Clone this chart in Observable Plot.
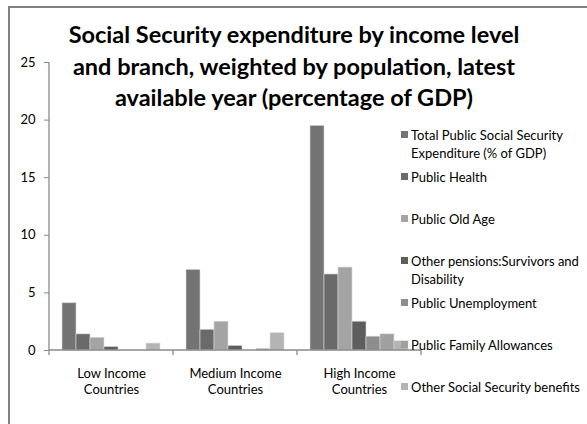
<!DOCTYPE html>
<html>
<head>
<meta charset="utf-8">
<script src="https://cdn.jsdelivr.net/npm/d3@7"></script>
<script src="https://cdn.jsdelivr.net/npm/@observablehq/plot@0.6"></script>
<style>
  html, body { margin: 0; padding: 0; background: #fff; }
  #wrap { position: relative; width: 587px; height: 424px; overflow: hidden; font-family: Lato, "Open Sans", sans-serif; background: #fff; }
  #chart { position: absolute; left: 0; top: 0; z-index: 1; }
  #title { position: absolute; left: 0; width: 588px; top: 19px; text-align: center; font-weight: bold; font-size: 23.5px; line-height: 31.5px; color: #000; z-index: 2; }
  #legend { position: absolute; left: 401px; top: 126px; width: 186px; font-size: 13px; color: #000; z-index: 3; }
  .item { height: 42px; position: relative; }
  .sw { position: absolute; left: 0; top: 5px; width: 7px; height: 7px; }
  .lab { position: absolute; left: 10px; top: 0; width: 176px; line-height: 18px; }
</style>
</head>
<body>
<div id="wrap">
  <div id="chart"></div>
  <div id="title">Social Security expenditure by income level<br>and branch, weighted by population, latest<br>available year (percentage of GDP)</div>
  <div id="legend"></div>
</div>
<script>
const categories = ["Low Income Countries", "Medium Income Countries", "High Income Countries"];
const series = [
  "Total Public Social Security Expenditure (% of GDP)",
  "Public Health",
  "Public Old Age",
  "Other pensions:Survivors and Disability",
  "Public Unemployment",
  "Public Family Allowances",
  "Other Social Security benefits"
];
const lowValues = [4.1, 1.4, 1.1, 0.3, 0, 0, 0.6];
const mediumValues = [7.0, 1.8, 2.5, 0.4, 0, 0.15, 1.5];
const highValues = [19.5, 6.6, 7.2, 2.5, 1.2, 1.4, 0.8];
const yTicks = [0, 5, 10, 15, 20, 25];
const colors = ["#737373", "#6a6a6a", "#a4a4a4", "#5e5e5e", "#8d8d8d", "#a0a0a0", "#b4b4b4"];

const valuesByCategory = [lowValues, mediumValues, highValues];
const data = [];
categories.forEach((c, i) => series.forEach((s, j) => data.push({cat: c, series: s, value: valuesByCategory[i][j]})));

const plot = Plot.plot({
  width: 587,
  height: 424,
  marginLeft: 49,
  marginRight: 166,
  marginTop: 62,
  marginBottom: 74,
  style: {fontFamily: "Lato, 'Open Sans', sans-serif", fontSize: "13px", color: "#000", background: "transparent", overflow: "visible"},
  fx: {domain: categories, padding: 0, label: null, axis: null},
  x: {domain: series, paddingInner: 0, paddingOuter: 0.8, axis: null},
  y: {domain: [0, 25], label: null},
  color: {domain: series, range: colors},
  marks: [
    Plot.barY(data, {fx: "cat", x: "series", y: "value", fill: "series", stroke: "#d9d9d9", strokeWidth: 0.6}),
    Plot.axisY({ticks: yTicks, tickSize: 5, tickPadding: 9, stroke: "#8a8a8a", fill: "#000", label: null}),
    Plot.axisFx({anchor: "bottom", tickSize: 0, tickPadding: 15, label: null, fill: "#000", lineHeight: 1.3,
      tickFormat: d => d.replace(" Countries", "\nCountries")})
  ]
});
document.getElementById("chart").appendChild(plot);

// axis lines and category boundary ticks from the plot's own scales
const fx = plot.scale("fx"), y = plot.scale("y");
const svg = d3.select(plot);
const y0 = y.apply(0), yTop = y.apply(25);
const left = fx.apply(categories[0]);
const bw = fx.bandwidth;
const right = fx.apply(categories[categories.length - 1]) + bw;
const g = svg.append("g").attr("stroke", "#8a8a8a").attr("stroke-width", 1.3);
g.append("line").attr("x1", left).attr("x2", left).attr("y1", yTop).attr("y2", y0);
g.append("line").attr("x1", left).attr("x2", right).attr("y1", y0).attr("y2", y0);
const bounds = categories.map(c => fx.apply(c)).concat([right]);
bounds.forEach(b => g.append("line").attr("x1", b).attr("x2", b).attr("y1", y0).attr("y2", y0 + 5));

// outer chart-area border (top and left edges visible in the frame)
svg.append("path")
  .attr("d", "M9,430 V7 H600")
  .attr("fill", "none").attr("stroke", "#828282").attr("stroke-width", 2);

// legend
const legend = document.getElementById("legend");
series.forEach((s, i) => {
  const it = document.createElement("div");
  it.className = "item";
  const sw = document.createElement("div");
  sw.className = "sw";
  sw.style.background = colors[i];
  const lab = document.createElement("div");
  lab.className = "lab";
  lab.textContent = s;
  it.appendChild(sw);
  it.appendChild(lab);
  legend.appendChild(it);
});
</script>
</body>
</html>
